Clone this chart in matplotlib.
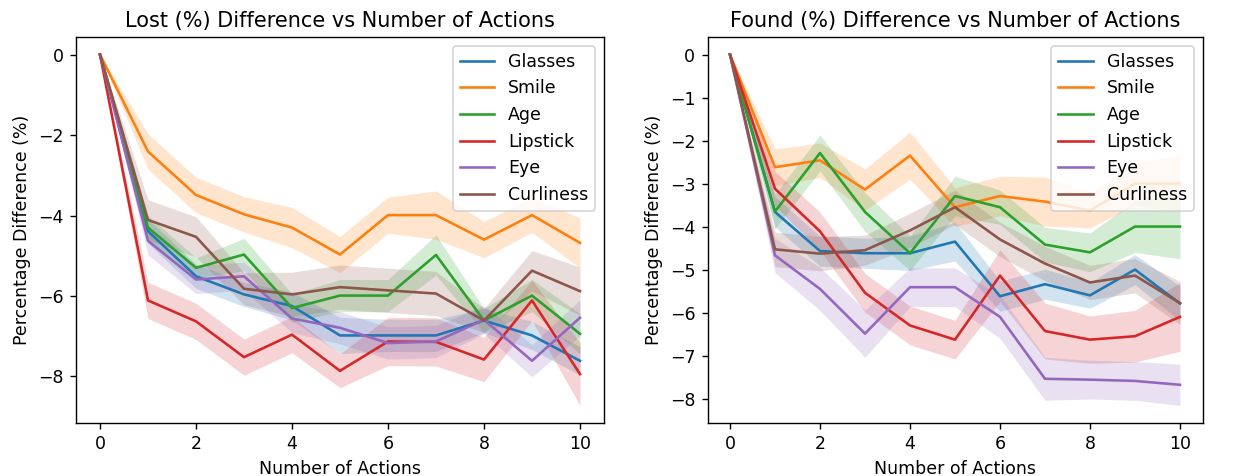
import matplotlib
matplotlib.use("Agg")
import matplotlib.pyplot as plt
import numpy as np

actions = list(range(11))
labels = ["Glasses", "Smile", "Age", "Lipstick", "Eye", "Curliness"]

# Lost (%) difference: means and half-widths of the shaded bands
lost_glasses = [0, -4.39, -5.51, -5.96, -6.25, -6.98, -6.98, -6.98, -6.61, -6.98, -7.61]
lost_smile = [0, -2.41, -3.49, -3.97, -4.30, -4.97, -3.99, -3.99, -4.60, -3.99, -4.68]
lost_age = [0, -4.30, -5.30, -4.97, -6.30, -5.99, -5.99, -4.98, -6.61, -5.99, -6.94]
lost_lipstick = [0, -6.11, -6.63, -7.52, -6.96, -7.86, -7.13, -7.14, -7.58, -6.11, -7.94]
lost_eye = [0, -4.63, -5.59, -5.51, -6.56, -6.79, -7.17, -7.13, -6.59, -7.61, -6.54]
lost_curliness = [0, -4.11, -4.53, -5.82, -5.96, -5.78, -5.86, -5.94, -6.61, -5.37, -5.88]

lost_glasses_err = [0, 0.30, 0.30, 0.30, 0.35, 0.45, 0.40, 0.40, 0.30, 0.35, 0.35]
lost_smile_err = [0, 0.44, 0.44, 0.44, 0.50, 0.45, 0.45, 0.60, 0.45, 0.43, 0.62]
lost_age_err = [0, 0.30, 0.25, 0.40, 0.35, 0.40, 0.40, 0.50, 0.30, 0.40, 0.50]
lost_lipstick_err = [0, 0.45, 0.45, 0.45, 0.45, 0.42, 0.60, 0.60, 0.55, 0.50, 0.78]
lost_eye_err = [0, 0.35, 0.35, 0.35, 0.35, 0.40, 0.40, 0.40, 0.35, 0.40, 0.45]
lost_curliness_err = [0, 0.50, 0.50, 0.40, 0.55, 0.55, 0.55, 0.55, 0.30, 0.50, 0.60]

# Found (%) difference
found_glasses = [0, -3.66, -4.57, -4.62, -4.62, -4.35, -5.62, -5.34, -5.60, -5.00, -5.79]
found_smile = [0, -2.62, -2.46, -3.14, -2.35, -3.55, -3.29, -3.42, -3.63, -3.00, -3.00]
found_age = [0, -3.65, -2.29, -3.66, -4.62, -3.29, -3.55, -4.42, -4.60, -4.00, -4.00]
found_lipstick = [0, -3.12, -4.11, -5.54, -6.30, -6.63, -5.14, -6.43, -6.63, -6.55, -6.10]
found_eye = [0, -4.67, -5.45, -6.49, -5.41, -5.41, -6.10, -7.54, -7.56, -7.59, -7.68]
found_curliness = [0, -4.53, -4.63, -4.55, -4.09, -3.55, -4.30, -4.86, -5.30, -5.14, -5.78]

found_glasses_err = [0, 0.35, 0.35, 0.35, 0.40, 0.45, 0.35, 0.35, 0.30, 0.35, 0.40]
found_smile_err = [0, 0.43, 0.40, 0.48, 0.55, 0.45, 0.46, 0.57, 0.40, 0.50, 0.65]
found_age_err = [0, 0.40, 0.42, 0.45, 0.40, 0.46, 0.40, 0.40, 0.45, 0.60, 0.75]
found_lipstick_err = [0, 0.40, 0.45, 0.45, 0.45, 0.45, 0.60, 0.65, 0.55, 0.60, 0.80]
found_eye_err = [0, 0.40, 0.50, 0.55, 0.45, 0.45, 0.50, 0.50, 0.45, 0.45, 0.48]
found_curliness_err = [0, 0.40, 0.40, 0.35, 0.40, 0.40, 0.40, 0.40, 0.40, 0.40, 0.50]

lost = [lost_glasses, lost_smile, lost_age, lost_lipstick, lost_eye, lost_curliness]
lost_err = [lost_glasses_err, lost_smile_err, lost_age_err, lost_lipstick_err, lost_eye_err, lost_curliness_err]
found = [found_glasses, found_smile, found_age, found_lipstick, found_eye, found_curliness]
found_err = [found_glasses_err, found_smile_err, found_age_err, found_lipstick_err, found_eye_err, found_curliness_err]

colors = ["#1f77b4", "#ff7f0e", "#2ca02c", "#d62728", "#9467bd", "#8c564b"]

fig = plt.figure(figsize=(1238 / 125, 476 / 125), dpi=125)
ax1 = fig.add_axes([76 / 1238, 53 / 476, 528 / 1238, 386 / 476])
ax2 = fig.add_axes([707.5 / 1238, 53 / 476, 495 / 1238, 386 / 476])

x = np.array(actions)
for ax, means, errs, title in [
    (ax1, lost, lost_err, "Lost (%) Difference vs Number of Actions"),
    (ax2, found, found_err, "Found (%) Difference vs Number of Actions"),
]:
    for m, e, lab, c in zip(means, errs, labels, colors):
        m = np.array(m)
        e = np.array(e)
        ax.plot(x, m, color=c, label=lab)
        ax.fill_between(x, m - e, m + e, color=c, alpha=0.2, linewidth=0)
    ax.set_title(title, fontsize=12)
    ax.set_xlabel("Number of Actions")
    ax.set_ylabel("Percentage Difference (%)")
    ax.legend(loc="upper right")

fig.savefig("out.png", dpi=125)
